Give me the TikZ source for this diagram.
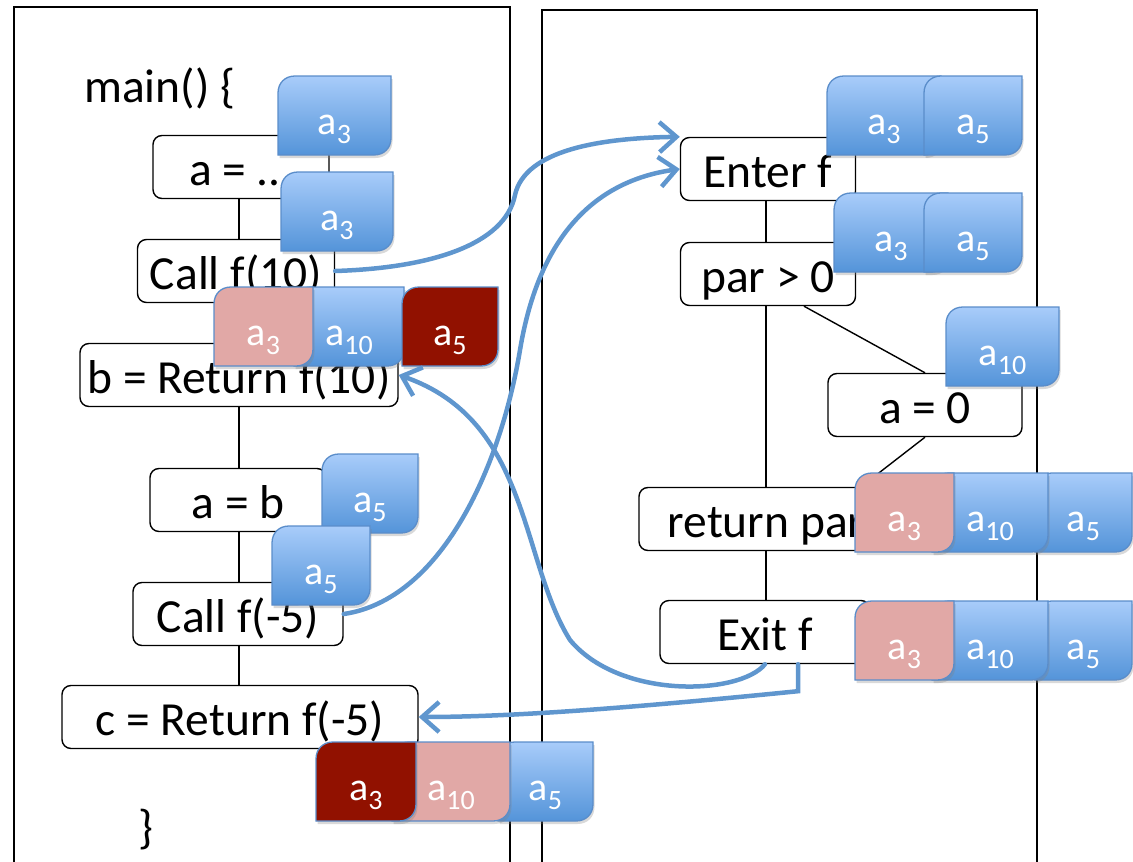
\documentclass[tikz,border=0pt]{standalone}
\usepackage{fontspec}
\setmainfont{Carlito}
\usetikzlibrary{arrows.meta,shadows}

\definecolor{factblueA}{HTML}{A8CCFA}
\definecolor{factblueB}{HTML}{5494D9}
\definecolor{factline}{HTML}{5A8DCA}
\definecolor{factpink}{HTML}{E1A8A6}
\definecolor{factred}{HTML}{911100}
\definecolor{flowblue}{HTML}{5F96CE}

\newcommand{\lowidx}[1]{\raisebox{-9pt}{\fontsize{28}{28}\selectfont #1}}

\tikzset{
  stmt/.style={draw, fill=white, rounded corners=9pt, line width=1.4pt, inner sep=0pt,
    minimum height=63pt, text height=38pt, text depth=1pt, font=\fontsize{47.5}{52}\selectfont},
  factedge/.style={draw=factline, line width=1.3pt,
    drop shadow={shadow xshift=1.5pt, shadow yshift=-3pt, opacity=0.3}},
  blueg/.style={top color=factblueA, bottom color=factblueB},
  pinkf/.style={fill=factpink},
  redf/.style={fill=factred},
  factlabel/.style={text=white, inner sep=0pt, anchor=base, font=\fontsize{40}{42}\selectfont},
  flow/.style={draw=flowblue, line width=4.5pt, line cap=round, -{Straight Barb[length=17pt,width=30pt]}},
  pics/fact/.style args={#1/#2/#3}{code={
    \path[factedge,#1] (0,17) .. controls (0,7) and (7,0) .. (17,0) -- (#2,0) -- (#2,62)
      .. controls (#2,72) and (#2-7,79) .. (#2-17,79) -- (0,79) -- cycle;
    \node[factlabel] (-label) at (#2/2,58) {#3};
  }},
}

\begin{document}
\begin{tikzpicture}[x=1pt, y=-1pt]
\useasboundingbox (0,0) rectangle (1133,862);
% the two frames
\draw[line width=1.4pt] (14,880) -- (14,7) -- (510,7) -- (510,880);
\draw[line width=1.4pt] (542,880) -- (542,10) -- (1037,10) -- (1037,880);
\coordinate (lspine) at (239,0);
\coordinate (rspine) at (766,0);

% main
\node[anchor=base west, inner sep=0pt, font=\fontsize{47.5}{52}\selectfont] (mainhead) at (84,102) {main() \{};
\node[stmt, minimum width=176pt] (aeq) at (241,167) {a = ...};
\node[stmt, minimum width=197pt] (call10) at (236,271) {Call f(10)};
\node[stmt, minimum width=318pt] (bret) at (239,375) {b = Return f(10)};
\node[stmt, minimum width=176pt] (aeqb) at (238,500) {a = b};
\node[stmt, minimum width=210pt] (callm5) at (238,614) {Call f(-5)};
\node[stmt, minimum width=356pt] (cret) at (240,717) {c = Return f(-5)};
\node[anchor=base west, inner sep=0pt, font=\fontsize{47.5}{52}\selectfont] (mainend) at (138,843) {\}};
\draw[line width=1.4pt] (aeq.south -| lspine) -- (call10.north -| lspine);
\draw[line width=1.4pt] (call10.south -| lspine) -- (bret.north -| lspine);
\draw[line width=1.4pt] (bret.south -| lspine) -- (aeqb.north -| lspine);
\draw[line width=1.4pt] (aeqb.south -| lspine) -- (callm5.north -| lspine);
\draw[line width=1.4pt] (callm5.south -| lspine) -- (cret.north -| lspine);

% f
\node[stmt, minimum width=175pt] (enter) at (768,169) {Enter f};
\node[stmt, minimum width=175pt] (par) at (768,274) {par > 0};
\node[stmt, minimum width=194pt] (azero) at (925,405) {a = 0};
\node[stmt, minimum width=254pt] (ret) at (766,519) {return par};
\node[stmt, minimum width=210pt] (exitf) at (765,632) {Exit f};
\draw[line width=1.4pt] (enter.south -| rspine) -- (par.north -| rspine);
\draw[line width=1.4pt] (par.south -| rspine) -- (ret.north -| rspine);
\draw[line width=1.4pt] (ret.south -| rspine) -- (exitf.north -| rspine);
\draw[line width=1.4pt] ([xshift=36pt]par.south) -- (azero.north);
\draw[line width=1.4pt] (azero.south) -- ([xshift=95pt]ret.north);

% facts in main
\pic (fA) at (278,76) {fact={blueg/113/a\lowidx{3}}};
\pic (fB) at (281,172) {fact={blueg/112/a\lowidx{3}}};
\pic (fC2) at (294,287) {fact={blueg/110/a\lowidx{10}}};
\pic (fC1) at (214,287) {fact={pinkf/99/a\lowidx{3}}};
\pic (fC3) at (402,287) {fact={redf/96/a\lowidx{5}}};
\pic (fD) at (322,454) {fact={blueg/96/a\lowidx{5}}};
\pic (fE) at (272,526) {fact={blueg/98/a\lowidx{5}}};
\pic (fF3) at (498,742) {fact={blueg/95/a\lowidx{5}}};
\pic (fF2) at (392,742) {fact={pinkf/118/a\lowidx{10}}};
\pic (fF1) at (316,742) {fact={redf/100/a\lowidx{3}}};

% facts in f
\pic (fG1) at (827,76) {fact={blueg/114/a\lowidx{3}}};
\pic (fG2) at (924,76) {fact={blueg/98/a\lowidx{5}}};
\pic (fH1) at (834,193) {fact={blueg/114/a\lowidx{3}}};
\pic (fH2) at (924,193) {fact={blueg/98/a\lowidx{5}}};
\pic (fI) at (946,307) {fact={blueg/113/a\lowidx{10}}};
\pic (fJ3) at (1035,473) {fact={blueg/97/a\lowidx{5}}};
\pic (fJ2) at (932,473) {fact={blueg/116/a\lowidx{10}}};
\pic (fJ1) at (855,473) {fact={pinkf/99/a\lowidx{3}}};
\pic (fK3) at (1035,601) {fact={blueg/97/a\lowidx{5}}};
\pic (fK2) at (932,601) {fact={blueg/116/a\lowidx{10}}};
\pic (fK1) at (855,601) {fact={pinkf/99/a\lowidx{3}}};

% calls and returns
\draw[flow] (call10.east) .. controls (430,268) and (505,245) .. (515,195)
  .. controls (525,150) and (600,138) .. (enter.north west);
\draw[flow] (callm5.east) .. controls (440,600) and (500,470) .. (520,350)
  .. controls (540,230) and (600,180) .. (enter.west);
\draw[flow] (exitf.south) .. controls (740,695) and (620,700) .. (570,640)
  .. controls (520,560) and (530,420) .. (bret.east);
\draw[flow] ([xshift=33pt]exitf.south) -- ++(0,27) .. controls (650,706) and (520,717) .. (cret.east);
\end{tikzpicture}
\end{document}
